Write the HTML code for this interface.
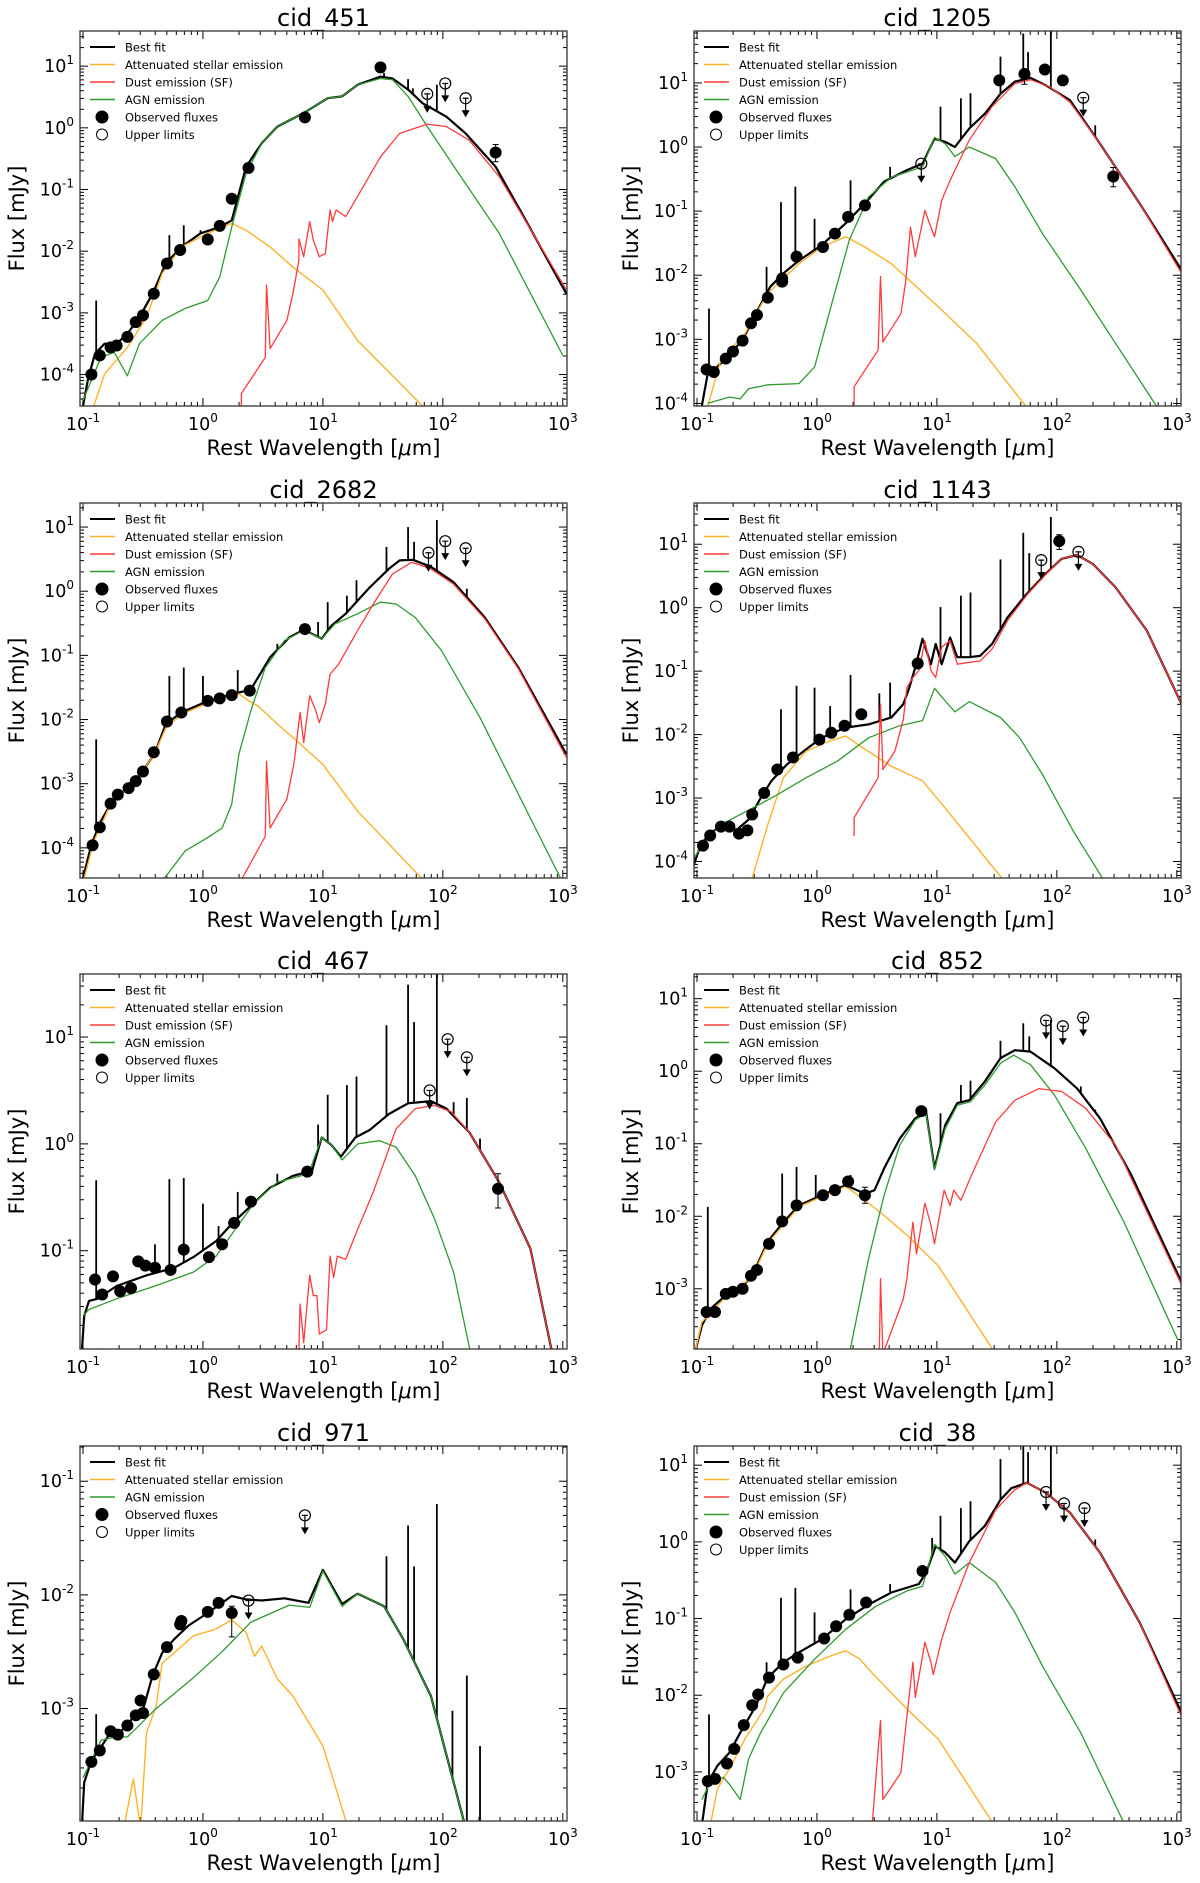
<!DOCTYPE html>
<html><head><meta charset="utf-8"><style>
html,body{margin:0;padding:0;background:#fff;}
svg{display:block;font-family:"DejaVu Sans","Liberation Sans",sans-serif;}
</style></head><body>
<svg id="fig" width="1200" height="1883" viewBox="0 0 1200 1883" xmlns="http://www.w3.org/2000/svg"></svg>
<script>
// All values are log10(wavelength/um), log10(flux/mJy)
// ---- cid_451 ----
const p1Fit=[[-1,-4.51],[-0.96,-4.09],[-0.9,-3.66],[-0.82,-3.5],[-0.72,-3.5],[-0.63,-3.34],[-0.53,-3.07],[-0.42,-2.69],[-0.31,-2.2],[-0.18,-1.93],[-0.02,-1.71],[0.14,-1.61],[0.24,-1.5],[0.36,-0.63],[0.49,-0.25],[0.62,0.02],[0.84,0.24],[1.04,0.48],[1.16,0.51],[1.29,0.7],[1.48,0.83],[1.58,0.8],[1.71,0.62],[1.83,0.4],[2.03,0.18],[2.19,-0.09],[2.44,-0.63],[2.66,-1.39],[3.03,-2.69]];
const p1Star=[[-0.91,-4.51],[-0.82,-3.99],[-0.63,-3.56],[-0.47,-3.07],[-0.34,-2.36],[-0.18,-1.93],[0.04,-1.71],[0.24,-1.55],[0.36,-1.66],[0.56,-1.93],[0.75,-2.26],[1.0,-2.63],[1.29,-3.45],[1.83,-4.51]];
const p1Agn=[[-1,-4.42],[-0.85,-3.72],[-0.74,-3.64],[-0.63,-4.02],[-0.53,-3.5],[-0.34,-3.12],[-0.15,-2.93],[0.04,-2.8],[0.14,-2.42],[0.24,-1.61],[0.36,-0.74],[0.49,-0.25],[0.62,0.02],[0.84,0.24],[1.04,0.48],[1.16,0.51],[1.29,0.7],[1.48,0.8],[1.58,0.78],[1.71,0.51],[1.87,0.02],[2.15,-0.79],[2.47,-1.71],[3.0,-3.69]];
const p1Dust=[[0.32,-4.6],[0.32,-4.31],[0.52,-3.72],[0.53,-2.55],[0.56,-3.58],[0.7,-3.12],[0.75,-2.69],[0.8,-2.15],[0.8,-1.8],[0.84,-2.09],[0.89,-1.52],[0.92,-1.82],[0.97,-2.09],[1.02,-2.04],[1.06,-1.33],[1.08,-1.52],[1.11,-1.33],[1.19,-1.44],[1.32,-1.01],[1.48,-0.47],[1.64,-0.09],[1.87,0.06],[2.03,0.02],[2.22,-0.2],[2.47,-0.79],[3.03,-2.63]];
const p1Obs=[[-0.93,-4.0],[-0.86,-3.69],[-0.77,-3.56],[-0.72,-3.53],[-0.63,-3.39],[-0.56,-3.15],[-0.5,-3.04],[-0.41,-2.69],[-0.3,-2.2],[-0.19,-1.98],[0.04,-1.81],[0.14,-1.59],[0.24,-1.15],[0.38,-0.65],[0.85,0.17],[1.48,0.98],[2.44,-0.4]];
const p1Err=[[2.44,-0.55,-0.27],[1.48,0.9,1.03]];
const p1Ul=[[1.87,0.55],[2.02,0.72],[2.19,0.48]];
const p1Lines=[[-0.89,-2.8],[-0.28,-1.74],[-0.16,-1.58],[-0.02,-1.66],[1.51,0.89],[1.71,0.79],[1.75,0.64],[1.95,0.7]];
// ---- cid_1205 ----
const p2Fit=[[-0.96,-4.04],[-0.91,-3.53],[-0.86,-3.48],[-0.76,-3.3],[-0.62,-3.01],[-0.51,-2.6],[-0.39,-2.18],[-0.28,-1.97],[-0.15,-1.77],[0.04,-1.53],[0.24,-1.19],[0.4,-0.88],[0.56,-0.54],[0.75,-0.36],[0.88,-0.26],[0.98,0.13],[1.07,0.08],[1.15,0.0],[1.27,0.29],[1.4,0.52],[1.53,0.83],[1.65,1.02],[1.78,1.08],[1.91,0.96],[2.11,0.73],[2.36,0.05],[2.69,-0.88],[3.04,-1.92]];
const p2Star=[[-0.91,-4.04],[-0.8,-3.32],[-0.6,-2.91],[-0.41,-2.28],[-0.15,-1.82],[0.04,-1.56],[0.24,-1.4],[0.4,-1.56],[0.62,-1.82],[1.01,-2.49],[1.33,-3.06],[1.74,-4.04]];
const p2Agn=[[-0.91,-4.0],[-0.73,-3.9],[-0.64,-3.93],[-0.57,-3.77],[-0.41,-3.71],[-0.15,-3.69],[-0.02,-3.43],[0.11,-2.54],[0.27,-1.45],[0.43,-0.78],[0.62,-0.47],[0.88,-0.31],[0.98,0.15],[1.07,0.05],[1.15,-0.15],[1.27,0.0],[1.49,-0.18],[1.65,-0.62],[1.88,-1.35],[2.2,-2.23],[2.83,-4.04]];
const p2Dust=[[0.31,-4.1],[0.31,-3.74],[0.51,-3.17],[0.53,-2.02],[0.55,-3.04],[0.7,-2.6],[0.74,-2.1],[0.78,-1.25],[0.82,-1.71],[0.9,-0.99],[0.95,-1.25],[0.98,-1.4],[1.04,-0.83],[1.11,-0.52],[1.27,0.11],[1.46,0.63],[1.65,0.99],[1.78,1.05],[1.94,0.94],[2.11,0.7],[2.36,0.05],[2.69,-0.88],[3.04,-1.97]];
const p2Obs=[[-0.92,-3.47],[-0.86,-3.51],[-0.76,-3.3],[-0.7,-3.19],[-0.62,-3.02],[-0.55,-2.75],[-0.5,-2.62],[-0.41,-2.35],[-0.29,-2.05],[-0.29,-2.1],[-0.17,-1.71],[0.05,-1.56],[0.15,-1.35],[0.26,-1.09],[0.4,-0.91],[1.52,1.04],[1.73,1.14],[1.9,1.21],[2.05,1.04],[2.47,-0.46]];
const p2Err=[[2.47,-0.62,-0.32],[1.73,0.98,1.22]];
const p2Ul=[[0.87,-0.26],[2.22,0.77]];
const p2Lines=[[-0.9,-2.52],[-0.42,-1.87],[-0.3,-0.86],[-0.18,-0.62],[-0.02,-1.12],[0.28,-0.52],[0.61,-0.31],[1.03,0.63],[1.2,0.76],[1.28,0.84],[1.53,1.41],[1.72,1.77],[1.76,1.48],[1.95,1.9],[2.32,0.34]];
// ---- cid_2682 ----
const p3Fit=[[-1,-4.47],[-0.93,-3.95],[-0.85,-3.58],[-0.77,-3.32],[-0.63,-3.06],[-0.5,-2.8],[-0.4,-2.52],[-0.31,-2.07],[-0.18,-1.89],[-0.02,-1.76],[0.14,-1.66],[0.3,-1.58],[0.4,-1.53],[0.56,-1.03],[0.72,-0.72],[0.84,-0.6],[0.99,-0.74],[1.07,-0.54],[1.19,-0.35],[1.39,0.06],[1.55,0.35],[1.64,0.48],[1.75,0.49],[1.9,0.38],[2.09,0.14],[2.35,-0.41],[2.63,-1.19],[3.03,-2.54]];
const p3Star=[[-0.99,-4.47],[-0.91,-3.9],[-0.77,-3.32],[-0.63,-3.06],[-0.5,-2.8],[-0.4,-2.52],[-0.31,-2.13],[-0.18,-1.92],[-0.02,-1.79],[0.14,-1.68],[0.3,-1.6],[0.4,-1.73],[0.46,-1.79],[0.62,-2.07],[0.75,-2.28],[1.0,-2.7],[1.29,-3.43],[1.82,-4.47]];
const p3Agn=[[-0.32,-4.47],[-0.15,-4.05],[0.04,-3.84],[0.16,-3.69],[0.24,-3.32],[0.3,-2.54],[0.4,-1.86],[0.52,-1.19],[0.68,-0.77],[0.84,-0.61],[0.99,-0.74],[1.1,-0.51],[1.29,-0.35],[1.48,-0.17],[1.61,-0.2],[1.77,-0.41],[1.99,-0.93],[2.31,-1.97],[2.98,-4.47]];
const p3Dust=[[0.32,-4.5],[0.52,-3.82],[0.53,-2.65],[0.56,-3.69],[0.7,-3.24],[0.76,-2.67],[0.81,-1.89],[0.84,-2.36],[0.89,-1.63],[0.94,-1.86],[0.97,-2.05],[1.02,-1.76],[1.06,-1.29],[1.13,-1.14],[1.29,-0.61],[1.42,-0.2],[1.58,0.27],[1.74,0.45],[1.9,0.35],[2.09,0.11],[2.35,-0.43],[2.63,-1.21],[3.03,-2.59]];
const p3Obs=[[-0.92,-3.96],[-0.86,-3.68],[-0.77,-3.31],[-0.71,-3.17],[-0.62,-3.07],[-0.56,-2.96],[-0.5,-2.81],[-0.41,-2.51],[-0.3,-2.03],[-0.18,-1.89],[0.04,-1.71],[0.14,-1.67],[0.24,-1.62],[0.39,-1.55],[0.85,-0.59]];
const p3Err=[];
const p3Ul=[[1.88,0.6],[2.02,0.78],[2.19,0.67]];
const p3Lines=[[-0.89,-2.31],[-0.28,-1.32],[-0.16,-1.19],[0.0,-1.32],[0.29,-1.23],[0.62,-0.82],[0.96,-0.48],[1.04,-0.17],[1.2,-0.07],[1.28,0.17],[1.53,0.69],[1.71,1.0],[1.76,0.77],[1.95,1.11],[2.2,0.04],[2.31,-0.33]];
// ---- cid_1143 ----
const p4Fit=[[-1.04,-4.13],[-0.97,-3.74],[-0.89,-3.55],[-0.8,-3.45],[-0.67,-3.5],[-0.57,-3.34],[-0.47,-3.0],[-0.38,-2.73],[-0.25,-2.47],[-0.09,-2.23],[0.04,-2.05],[0.24,-1.89],[0.43,-1.84],[0.62,-1.73],[0.72,-1.52],[0.77,-1.26],[0.82,-0.94],[0.88,-0.49],[0.95,-0.89],[0.99,-0.57],[1.04,-0.89],[1.11,-0.47],[1.17,-0.78],[1.27,-0.78],[1.36,-0.76],[1.46,-0.57],[1.59,-0.15],[1.75,0.22],[1.91,0.54],[2.04,0.77],[2.17,0.83],[2.3,0.69],[2.49,0.32],[2.75,-0.36],[3.04,-1.52]];
const p4Star=[[-0.54,-4.26],[-0.41,-3.42],[-0.28,-2.68],[-0.09,-2.26],[0.11,-2.1],[0.24,-2.02],[0.36,-2.18],[0.62,-2.5],[0.88,-2.73],[1.07,-3.16],[1.54,-4.26]];
const p4Agn=[[-1.04,-4.0],[-0.96,-3.74],[-0.8,-3.42],[-0.54,-3.16],[-0.35,-2.97],[-0.09,-2.68],[0.17,-2.42],[0.43,-2.05],[0.69,-1.86],[0.88,-1.78],[0.98,-1.27],[1.07,-1.47],[1.15,-1.64],[1.27,-1.48],[1.53,-1.73],[1.69,-2.05],[1.88,-2.63],[2.14,-3.53],[2.38,-4.26]];
const p4Dust=[[0.31,-3.6],[0.31,-3.31],[0.51,-2.68],[0.53,-1.52],[0.55,-2.55],[0.65,-2.26],[0.72,-1.76],[0.75,-1.26],[0.8,-1.1],[0.85,-0.99],[0.9,-0.52],[0.95,-0.99],[0.99,-1.1],[1.04,-0.62],[1.11,-0.52],[1.17,-0.89],[1.27,-0.86],[1.36,-0.84],[1.46,-0.65],[1.59,-0.2],[1.75,0.2],[1.91,0.53],[2.04,0.77],[2.17,0.83],[2.3,0.69],[2.49,0.32],[2.75,-0.36],[3.04,-1.52]];
const p4Obs=[[-0.95,-3.75],[-0.89,-3.59],[-0.8,-3.45],[-0.73,-3.45],[-0.65,-3.56],[-0.58,-3.51],[-0.54,-3.26],[-0.44,-2.92],[-0.33,-2.55],[-0.2,-2.36],[0.02,-2.08],[0.12,-1.97],[0.23,-1.86],[0.37,-1.68],[0.84,-0.88],[2.02,1.05]];
const p4Err=[[2.02,0.92,1.15]];
const p4Ul=[[1.87,0.75],[2.18,0.88]];
const p4Lines=[[-0.3,-1.6],[-0.17,-1.23],[-0.02,-1.26],[0.11,-1.55],[0.28,-1.06],[0.52,-1.35],[0.61,-1.18],[1.03,0.01],[1.2,0.19],[1.28,0.24],[1.53,0.76],[1.72,1.18],[1.77,0.86],[1.95,1.43]];
// ---- cid_467 ----
const p5Fit=[[-1.01,-1.95],[-0.99,-1.61],[-0.95,-1.47],[-0.88,-1.45],[-0.72,-1.33],[-0.47,-1.23],[-0.24,-1.16],[-0.08,-1.06],[0.11,-0.91],[0.24,-0.75],[0.4,-0.58],[0.56,-0.41],[0.75,-0.3],[0.91,-0.25],[0.99,0.06],[1.07,-0.01],[1.15,-0.12],[1.27,0.06],[1.39,0.13],[1.55,0.28],[1.71,0.38],[1.9,0.4],[2.03,0.33],[2.22,0.11],[2.47,-0.36],[2.73,-0.98],[2.91,-1.95]];
const p5Star=[[-0.9,-2.4],[-0.85,-1.92],[-0.8,-2.3],[0.2,-2.1],[1.0,-3.0]];
const p5Agn=[[-1,-1.61],[-0.95,-1.55],[-0.72,-1.45],[-0.4,-1.33],[-0.08,-1.2],[0.11,-1.05],[0.27,-0.8],[0.43,-0.55],[0.62,-0.36],[0.88,-0.28],[0.99,0.06],[1.07,-0.01],[1.16,-0.15],[1.29,0.0],[1.47,0.03],[1.61,-0.03],[1.77,-0.3],[1.93,-0.7],[2.09,-1.2],[2.23,-1.95]];
const p5Dust=[[0.8,-1.95],[0.81,-1.5],[0.84,-1.86],[0.89,-1.23],[0.92,-1.42],[0.95,-1.42],[0.97,-1.78],[1.03,-1.74],[1.06,-1.05],[1.09,-1.25],[1.12,-1.05],[1.19,-1.08],[1.29,-0.8],[1.42,-0.45],[1.61,0.14],[1.77,0.33],[1.93,0.36],[2.07,0.3],[2.22,0.11],[2.47,-0.36],[2.73,-0.98],[2.91,-1.95]];
const p5Obs=[[-0.9,-1.27],[-0.84,-1.41],[-0.75,-1.24],[-0.69,-1.38],[-0.6,-1.35],[-0.54,-1.1],[-0.48,-1.14],[-0.4,-1.16],[-0.27,-1.18],[-0.16,-0.99],[0.05,-1.06],[0.16,-0.94],[0.26,-0.74],[0.4,-0.54],[0.87,-0.26],[2.46,-0.42]];
const p5Err=[[2.46,-0.6,-0.28]];
const p5Ul=[[1.89,0.5],[2.04,0.98],[2.2,0.81]];
const p5Lines=[[-0.89,-0.34],[-0.4,-0.94],[-0.28,-0.33],[-0.16,-0.32],[0.0,-0.56],[0.13,-0.77],[0.29,-0.45],[0.62,-0.28],[0.96,0.18],[1.04,0.46],[1.2,0.55],[1.28,0.63],[1.53,1.11],[1.71,1.49],[1.76,1.14],[1.95,1.7],[2.09,0.39],[2.2,0.43],[2.31,0.05]];
// ---- cid_852 ----
const p6Fit=[[-1.02,-3.9],[-0.96,-3.51],[-0.89,-3.28],[-0.76,-3.09],[-0.64,-3.0],[-0.54,-2.82],[-0.41,-2.35],[-0.28,-2.08],[-0.15,-1.85],[0.04,-1.71],[0.24,-1.57],[0.4,-1.69],[0.48,-1.64],[0.56,-1.34],[0.69,-0.93],[0.82,-0.65],[0.91,-0.56],[0.98,-1.34],[1.07,-0.74],[1.17,-0.44],[1.27,-0.4],[1.4,-0.14],[1.53,0.18],[1.65,0.29],[1.78,0.27],[1.98,0.04],[2.17,-0.24],[2.36,-0.65],[2.62,-1.43],[3.04,-2.91]];
const p6Star=[[-1.02,-3.9],[-0.96,-3.46],[-0.76,-3.11],[-0.54,-2.84],[-0.41,-2.37],[-0.15,-1.87],[0.04,-1.73],[0.24,-1.59],[0.4,-1.78],[0.56,-1.99],[0.75,-2.26],[1.01,-2.68],[1.49,-3.9]];
const p6Agn=[[0.27,-3.9],[0.43,-2.59],[0.56,-1.71],[0.69,-1.02],[0.82,-0.67],[0.91,-0.58],[0.98,-1.36],[1.07,-0.79],[1.17,-0.47],[1.28,-0.42],[1.4,-0.19],[1.53,0.11],[1.64,0.22],[1.78,0.09],[1.98,-0.33],[2.24,-1.06],[2.56,-2.08],[3.01,-3.71]];
const p6Dust=[[0.52,-3.9],[0.53,-2.86],[0.55,-3.9],[0.72,-3.14],[0.75,-2.86],[0.8,-2.08],[0.83,-2.52],[0.9,-1.82],[0.95,-2.12],[0.98,-2.38],[1.06,-1.64],[1.11,-1.85],[1.14,-1.64],[1.2,-1.78],[1.3,-1.39],[1.49,-0.7],[1.65,-0.4],[1.85,-0.24],[2.04,-0.28],[2.24,-0.51],[2.49,-1.02],[3.04,-2.95]];
const p6Obs=[[-0.92,-3.32],[-0.85,-3.32],[-0.76,-3.07],[-0.7,-3.04],[-0.62,-3.0],[-0.55,-2.82],[-0.5,-2.74],[-0.4,-2.38],[-0.29,-2.07],[-0.17,-1.85],[0.05,-1.71],[0.15,-1.64],[0.26,-1.52],[0.4,-1.71],[0.87,-0.55]];
const p6Err=[[0.4,-1.82,-1.6]];
const p6Ul=[[1.91,0.7],[2.05,0.62],[2.22,0.74]];
const p6Lines=[[-0.91,-1.87],[-0.29,-1.41],[-0.17,-1.32],[-0.01,-1.43],[0.28,-1.43],[1.03,-0.58],[1.2,-0.19],[1.28,-0.13],[1.53,0.42],[1.72,0.66],[1.77,0.48],[1.95,0.71],[2.2,-0.21],[2.32,-0.53]];
// ---- cid_971 ----
const p7Fit=[[-1.01,-4.05],[-0.99,-3.65],[-0.93,-3.46],[-0.85,-3.34],[-0.77,-3.21],[-0.69,-3.21],[-0.59,-3.09],[-0.5,-3.01],[-0.42,-2.71],[-0.34,-2.51],[-0.24,-2.39],[-0.12,-2.27],[0.04,-2.16],[0.24,-2.01],[0.36,-2.04],[0.49,-2.05],[0.68,-2.03],[0.88,-2.07],[1.0,-1.78],[1.16,-2.08],[1.29,-1.99],[1.51,-2.1],[1.67,-2.39],[1.9,-2.89],[2.19,-4.05]];
const p7Star=[[-0.66,-4.05],[-0.58,-3.62],[-0.52,-4.05],[-0.47,-3.21],[-0.39,-2.98],[-0.34,-2.6],[-0.24,-2.51],[-0.08,-2.36],[0.11,-2.3],[0.24,-2.22],[0.36,-2.33],[0.43,-2.54],[0.49,-2.45],[0.62,-2.74],[0.75,-2.89],[1.0,-3.33],[1.21,-4.05]];
const p7Agn=[[-1,-3.61],[-0.85,-3.28],[-0.72,-3.25],[-0.63,-3.25],[-0.58,-3.2],[-0.4,-3.01],[-0.08,-2.73],[0.17,-2.49],[0.4,-2.24],[0.72,-2.09],[0.89,-2.11],[1.0,-1.79],[1.16,-2.1],[1.29,-1.99],[1.51,-2.1],[1.67,-2.39],[1.9,-2.89],[2.19,-4.05]];
const p7Dust=[];
const p7Obs=[[-0.93,-3.47],[-0.86,-3.37],[-0.77,-3.2],[-0.71,-3.23],[-0.63,-3.15],[-0.56,-3.06],[-0.5,-3.04],[-0.52,-2.93],[-0.41,-2.7],[-0.3,-2.46],[-0.19,-2.26],[-0.18,-2.23],[0.04,-2.15],[0.13,-2.07],[0.24,-2.16]];
const p7Err=[[0.24,-2.37,-2.1]];
const p7Ul=[[0.38,-2.05],[0.85,-1.3]];
const p7Lines=[[-0.89,-3.05],[1.53,-1.66],[1.71,-1.39],[1.76,-1.75],[1.95,-1.2],[2.08,-3.02],[2.2,-2.71],[2.31,-3.33]];
// ---- cid_38 ----
const p8Fit=[[-0.96,-3.7],[-0.91,-3.14],[-0.83,-2.92],[-0.73,-2.75],[-0.64,-2.49],[-0.51,-2.14],[-0.41,-1.77],[-0.28,-1.57],[-0.15,-1.44],[0.04,-1.27],[0.24,-1.01],[0.43,-0.82],[0.62,-0.66],[0.85,-0.55],[0.91,-0.4],[0.99,-0.06],[1.07,-0.14],[1.15,-0.27],[1.27,0.01],[1.4,0.21],[1.53,0.55],[1.62,0.7],[1.75,0.77],[1.91,0.64],[2.11,0.38],[2.36,-0.14],[2.69,-1.05],[3.04,-2.23]];
const p8Star=[[-0.89,-3.7],[-0.83,-3.22],[-0.73,-2.96],[-0.6,-2.57],[-0.44,-2.18],[-0.41,-2.01],[-0.28,-1.79],[-0.09,-1.62],[0.11,-1.49],[0.24,-1.42],[0.36,-1.53],[0.43,-1.66],[0.62,-1.97],[0.75,-2.18],[1.01,-2.57],[1.48,-3.7]];
const p8Agn=[[-0.96,-3.36],[-0.89,-3.14],[-0.78,-3.07],[-0.72,-3.18],[-0.64,-3.36],[-0.57,-2.83],[-0.47,-2.49],[-0.28,-1.97],[-0.02,-1.53],[0.24,-1.14],[0.49,-0.84],[0.75,-0.64],[0.88,-0.58],[0.98,-0.03],[1.07,-0.19],[1.15,-0.42],[1.27,-0.27],[1.49,-0.53],[1.65,-0.92],[1.88,-1.62],[2.2,-2.49],[2.57,-3.7]];
const p8Dust=[[0.46,-3.7],[0.53,-2.33],[0.55,-3.36],[0.7,-3.01],[0.74,-2.42],[0.8,-1.57],[0.82,-2.03],[0.9,-1.31],[0.95,-1.57],[0.97,-1.73],[1.04,-1.27],[1.11,-0.92],[1.27,-0.27],[1.49,0.42],[1.65,0.68],[1.75,0.77],[1.91,0.64],[2.11,0.38],[2.36,-0.14],[2.69,-1.05],[3.04,-2.28]];
const p8Obs=[[-0.91,-3.12],[-0.85,-3.09],[-0.75,-2.89],[-0.69,-2.7],[-0.61,-2.39],[-0.54,-2.13],[-0.49,-1.99],[-0.4,-1.77],[-0.28,-1.6],[-0.16,-1.51],[0.06,-1.26],[0.16,-1.1],[0.27,-0.95],[0.41,-0.79],[0.88,-0.38]];
const p8Err=[];
const p8Ul=[[1.91,0.65],[2.06,0.5],[2.23,0.44]];
const p8Lines=[[-0.9,-2.25],[-0.42,-1.57],[-0.3,-0.73],[-0.18,-0.6],[-0.02,-0.92],[0.28,-0.62],[0.61,-0.55],[0.96,0.05],[1.03,0.34],[1.2,0.44],[1.28,0.53],[1.53,1.08],[1.72,1.3],[1.76,1.17],[1.95,1.3],[2.32,0.03]];

const titles=["cid_451","cid_1205","cid_2682","cid_1143","cid_467","cid_852","cid_971","cid_38"];
const yMins=[-4.51,-4.04,-4.47,-4.26,-1.92,-3.83,-3.99,-3.64];
const yMaxs=[1.57,1.81,1.375,1.65,1.59,1.34,-0.69,1.25];

const panels=[
 [p1Fit,p1Star,p1Agn,p1Dust,p1Obs,p1Err,p1Ul,p1Lines],
 [p2Fit,p2Star,p2Agn,p2Dust,p2Obs,p2Err,p2Ul,p2Lines],
 [p3Fit,p3Star,p3Agn,p3Dust,p3Obs,p3Err,p3Ul,p3Lines],
 [p4Fit,p4Star,p4Agn,p4Dust,p4Obs,p4Err,p4Ul,p4Lines],
 [p5Fit,p5Star,p5Agn,p5Dust,p5Obs,p5Err,p5Ul,p5Lines],
 [p6Fit,p6Star,p6Agn,p6Dust,p6Obs,p6Err,p6Ul,p6Lines],
 [p7Fit,p7Star,p7Agn,p7Dust,p7Obs,p7Err,p7Ul,p7Lines],
 [p8Fit,p8Star,p8Agn,p8Dust,p8Obs,p8Err,p8Ul,p8Lines]];

const NS="http://www.w3.org/2000/svg";
const fig=document.getElementById('fig');
const XMIN=-1.025,XMAX=3.035,W=487,H=375;
const LEFTS=[80,694],TOPS=[31,503,974,1446];
const C_STAR="#ffb128",C_DUST="#ff3a3a",C_AGN="#2f9a2f";
function mk(tag,attrs,parent){const e=document.createElementNS(NS,tag);for(const k in attrs)e.setAttribute(k,attrs[k]);(parent||fig).appendChild(e);return e;}
function interp(arr,x){if(!arr.length)return null;if(x<=arr[0][0])return arr[0][1];for(let i=1;i<arr.length;i++){if(x<=arr[i][0]){const a=arr[i-1],b=arr[i];return a[1]+(b[1]-a[1])*(x-a[0])/(b[0]-a[0]||1);}}return arr[arr.length-1][1];}
function pow10Label(g,x,y,exp,anchor){
  const t=mk('text',{x:x,y:y,'font-size':17.5,'text-anchor':anchor,fill:'#000'},g);
  
  
  t.appendChild(document.createTextNode('10'));
  const s=mk('tspan',{'font-size':12,dy:-8},t);s.textContent=String(exp);
}
panels.forEach((P,pi)=>{
  const [fit,star,agn,dust,obs,err,ul,lines]=P;
  const L=LEFTS[pi%2],T=TOPS[Math.floor(pi/2)],ymin=yMins[pi],ymax=yMaxs[pi];
  const sx=v=>L+(v-XMIN)/(XMAX-XMIN)*W;
  const sy=v=>T+H-(v-ymin)/(ymax-ymin)*H;
  const g=mk('g',{});
  
  
  const cid='clip'+pi;
  const cp=mk('clipPath',{id:cid},g);mk('rect',{x:L,y:T,width:W,height:H},cp);
  const tt=mk('text',{x:L+W/2,y:T-5,'font-size':24,'text-anchor':'middle'},g);tt.textContent=titles[pi];
  
  
  const tk=mk('g',{stroke:'#000','stroke-width':1},g);
  
  
  for(let d=-2;d<=3;d++){for(let k=1;k<=9;k++){const v=d+Math.log10(k);if(v<XMIN||v>XMAX)continue;const len=k===1?8:4;const x=sx(v);
    mk('line',{x1:x,x2:x,y1:T+H,y2:T+H-len},tk);mk('line',{x1:x,x2:x,y1:T,y2:T+len},tk);}
    if(d>=-1&&d<=3)pow10Label(g,sx(d),T+H+24,d,'middle');}
  for(let d=Math.floor(ymin);d<=Math.ceil(ymax);d++){for(let k=1;k<=9;k++){const v=d+Math.log10(k);if(v<ymin||v>ymax)continue;const len=k===1?8:4;const y=sy(v);
    mk('line',{x1:L,x2:L+len,y1:y,y2:y},tk);mk('line',{x1:L+W,x2:L+W-len,y1:y,y2:y},tk);}
    if(d>=ymin&&d<=ymax)pow10Label(g,L-6,sy(d)+6,d,'end');}
  const xl=mk('text',{x:L+W/2,y:T+H+49,'font-size':21,'text-anchor':'middle'},g);
  xl.appendChild(document.createTextNode('Rest Wavelength ['));
  const mu=mk('tspan',{'font-style':'italic'},xl);mu.textContent='\u03bc';
  xl.appendChild(document.createTextNode('m]'));
  
  
  const yl=mk('text',{x:0,y:0,'font-size':21,'text-anchor':'middle',transform:`translate(${L-56},${T+H/2}) rotate(-90)`},g);yl.textContent='Flux [mJy]';
  
  
  const cg=mk('g',{'clip-path':`url(#${cid})`},g);
  const path=(arr,col,w,name)=>{if(!arr.length)return;const p=mk('path',{d:'M'+arr.map(q=>sx(q[0]).toFixed(1)+','+sy(q[1]).toFixed(1)).join('L'),fill:'none',stroke:col,'stroke-width':w,'stroke-linejoin':'round'},cg);
    
    };
  path(fit,'#000',2.2,'best-fit-line');
  lines.forEach(q=>{const base=interp(fit,q[0]);const l=mk('line',{x1:sx(q[0]),x2:sx(q[0]),y1:sy(base),y2:sy(q[1]),stroke:'#000','stroke-width':1.8},cg);
    
    });
  path(star,C_STAR,1.4,'stellar-emission-line');
  path(agn,C_AGN,1.3,'agn-emission-line');
  path(dust,C_DUST,1.3,'dust-emission-line');
  err.forEach(q=>{const x=sx(q[0]);mk('path',{d:`M${x},${sy(q[1])}V${sy(q[2])}M${x-3},${sy(q[1])}h6M${x-3},${sy(q[2])}h6`,stroke:'#000','stroke-width':1,fill:'none'},cg);});
  obs.forEach(q=>{const c=mk('circle',{cx:sx(q[0]),cy:sy(q[1]),r:6,fill:'#000'},cg);
    
    });
  ul.forEach(q=>{const x=sx(q[0]),y=sy(q[1]);const u=mk('g',{stroke:'#000','stroke-width':1.2,fill:'none'},cg);
    
    
    mk('circle',{cx:x,cy:y,r:5.5},u);mk('path',{d:`M${x-3},${y}h6M${x},${y}V${y+14}`},u);
    mk('path',{d:`M${x-4},${y+12}L${x+4},${y+12}L${x},${y+19}Z`,fill:'#000',stroke:'none'},u);});
  mk('rect',{x:L,y:T,width:W,height:H,fill:'none',stroke:'#333','stroke-width':1.3},g);
  const lg=mk('g',{'font-size':11.5},g);
  
  
  const ent=[['line','#000','Best fit'],['line',C_STAR,'Attenuated stellar emission']];
  if(dust.length)ent.push(['line',C_DUST,'Dust emission (SF)']);
  ent.push(['line',C_AGN,'AGN emission'],['dot','#000','Observed fluxes'],['open','#000','Upper limits']);
  ent.forEach((e,i)=>{const y=T+16+i*17.5;
    if(e[0]==='line')mk('line',{x1:L+10,x2:L+35,y1:y,y2:y,stroke:e[1],'stroke-width':e[1]==='#000'?2:1.5},lg);
    else mk('circle',{cx:L+22,cy:y,r:e[0]==='dot'?6:5.5,fill:e[0]==='dot'?'#000':'none',stroke:'#000','stroke-width':1},lg);
    const t=mk('text',{x:L+45,y:y+4.5},lg);t.textContent=e[2];
    
    });
});
</script>
</body></html>
